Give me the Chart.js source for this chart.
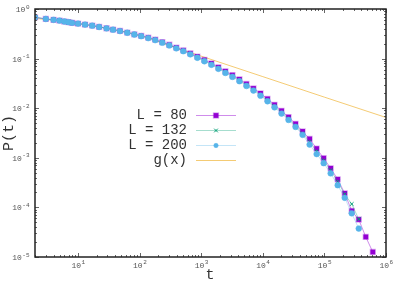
<!DOCTYPE html>
<html><head><meta charset="utf-8">
<script src="https://cdn.jsdelivr.net/npm/chart.js@4/dist/chart.umd.min.js"></script>
<style>html,body{margin:0;padding:0;background:#fff}#wrap{width:405px;height:284px}</style>
</head><body><div id="wrap"><canvas id="c" width="405" height="284"></canvas></div>
<script>
// time values (log-spaced)
const times = [2,3,4,5,6,7,8,10,13,17,22,29,37,48,63,82,106,138,179,233,303,394,512,665,865,1125,1462,1901,2471,3212,4176,5428,7057,9174,11926,15503,20154,26201,34061,44279,57563,74832,97282,126466,164405,213727,277845,361198,469558,610425];
const p80 = [0.68,0.63,0.605,0.585,0.56,0.543,0.527,0.509,0.486,0.464,0.436,0.409,0.385,0.362,0.335,0.309,0.287,0.264,0.242,0.215,0.190,0.167,0.147,0.128,0.110,0.094,0.080,0.0668,0.0555,0.0465,0.0382,0.0308,0.0250,0.0199,0.0154,0.0117,0.00885,0.00660,0.00483,0.00340,0.00240,0.00153,0.00098,0.000614,0.000368,0.000192,0.000085,0.000057,0.0000254,0.0000126];
const p132 = [0.68,0.63,0.605,0.585,0.56,0.543,0.527,0.508,0.485,0.463,0.435,0.408,0.384,0.360,0.333,0.307,0.284,0.261,0.238,0.211,0.186,0.163,0.143,0.124,0.106,0.0905,0.0765,0.0638,0.0528,0.0441,0.0361,0.0290,0.0235,0.0186,0.0143,0.0109,0.0082,0.0061,0.0044,0.0031,0.00210,0.00135,0.00088,0.000560,0.000330,0.000184,0.000117,0.000058];
const p200 = [0.68,0.63,0.605,0.585,0.56,0.543,0.527,0.508,0.485,0.462,0.434,0.407,0.383,0.359,0.332,0.306,0.283,0.259,0.236,0.209,0.184,0.161,0.141,0.122,0.104,0.0885,0.0750,0.0622,0.0514,0.0428,0.0350,0.0281,0.0227,0.0179,0.0138,0.0104,0.0078,0.0058,0.0042,0.0029,0.00185,0.00119,0.00078,0.000486,0.000280,0.000156,0.000076,0.0000375];
const gTimes = [2,5,10,30,100,300,1000,10000,100000,1000000];
const gValues = [0.645,0.575,0.51,0.405,0.295,0.185,0.112,0.0433,0.0167,0.0065];
const seriesNames = ['L = 80','L = 132','L = 200','g(x)'];
const xTickExps = [1,2,3,4,5,6];
const yTickExps = [0,-1,-2,-3,-4,-5];

const pts = (xs, ys) => ys.map((v,i)=>({x:xs[i], y:v}));
const MONO = '"Liberation Mono", "DejaVu Sans Mono", monospace';

const datasets = [
  {label:seriesNames[0], data:pts(times,p80), borderColor:'rgba(148,0,211,0.45)', borderWidth:1,
   pointStyle:'rect', pointRadius:3.4, pointBackgroundColor:'#9400d3', pointBorderColor:'rgba(148,0,211,0.3)', pointBorderWidth:1.5, order:3},
  {label:seriesNames[1], data:pts(times,p132), borderColor:'rgba(0,158,115,0.35)', borderWidth:1,
   pointStyle:'crossRot', pointRadius:2.6, pointBackgroundColor:'#009e73', pointBorderColor:'#009e73', pointBorderWidth:1, order:2},
  {label:seriesNames[2], data:pts(times,p200), borderColor:'rgba(86,180,233,0.35)', borderWidth:1,
   pointStyle:'circle', pointRadius:2.9, pointBackgroundColor:'#56b4e9', pointBorderColor:'rgba(86,180,233,0.5)', pointBorderWidth:1, order:1},
  {label:seriesNames[3], data:pts(gTimes,gValues), borderColor:'rgba(240,185,70,0.75)', borderWidth:1,
   pointRadius:0, cubicInterpolationMode:'monotone', order:4}
];

function line(ctx,x1,y1,x2,y2){ctx.beginPath();ctx.moveTo(x1,y1);ctx.lineTo(x2,y2);ctx.stroke();}

const deco = {
  id:'deco',
  afterDatasetsDraw(chart){
    const ctx = chart.ctx, a = chart.chartArea, xs = chart.scales.x, ys = chart.scales.y;
    ctx.save();
    // inward ticks
    ctx.strokeStyle = '#666'; ctx.lineWidth = 1;
    for (let e=0;e<=6;e++) for (let m=1;m<=9;m++){
      const v = m*Math.pow(10,e); if (v < xs.min || v > xs.max) continue;
      const px = Math.round(xs.getPixelForValue(v))+0.5, len = m===1?4:2;
      line(ctx,px,a.bottom,px,a.bottom-len); line(ctx,px,a.top,px,a.top+len);
    }
    for (let e=-5;e<=0;e++) for (let m=1;m<=9;m++){
      const v = m*Math.pow(10,e); if (v < ys.min*0.999 || v > ys.max*1.001) continue;
      const py = Math.round(ys.getPixelForValue(v))+0.5, len = m===1?4:2;
      line(ctx,a.left,py,a.left+len,py); line(ctx,a.right,py,a.right-len,py);
    }
    // frame
    ctx.strokeStyle = '#222'; ctx.lineWidth = 1.5;
    ctx.strokeRect(a.left, a.top, a.right-a.left, a.bottom-a.top);
    // tick labels
    ctx.fillStyle = '#555'; ctx.textBaseline = 'alphabetic'; ctx.textAlign = 'left';
    const bigF = '8px '+MONO, smallF = '6px '+MONO;
    function pow(exp){
      ctx.font = bigF; const w1 = ctx.measureText('10').width;
      ctx.font = smallF; const w2 = ctx.measureText(String(exp)).width;
      return {w1,w2,t:w1+w2};
    }
    xTickExps.forEach(e=>{
      const px = xs.getPixelForValue(Math.pow(10,e)); const m = pow(e);
      const x0 = px - m.t/2;
      ctx.font = bigF; ctx.fillText('10', x0, 268);
      ctx.font = smallF; ctx.fillText(String(e), x0+m.w1+0.5, 264);
    });
    yTickExps.forEach(e=>{
      const py = ys.getPixelForValue(Math.pow(10,e)); const m = pow(e);
      const x0 = 29 - m.t;
      ctx.font = bigF; ctx.fillText('10', x0, py+3);
      ctx.font = smallF; ctx.fillText(String(e), x0+m.w1+0.5, py-0.5);
    });
    // axis titles
    ctx.fillStyle = '#333'; ctx.font = '15px '+MONO; ctx.textAlign='center'; ctx.textBaseline='middle';
    ctx.fillText('t', 210, 275);
    ctx.save(); ctx.translate(9,133); ctx.rotate(-Math.PI/2); ctx.fillText('P(t)',0,0); ctx.restore();
    // legend
    ctx.font = '14px '+MONO; ctx.textAlign='right'; ctx.textBaseline='middle'; ctx.fillStyle='#333';
    chart.data.datasets.forEach((ds,i)=>{
      const yy = 115 + i*15;
      ctx.fillStyle='#333'; ctx.fillText(ds.label, 187, yy);
      ctx.strokeStyle = ds.borderColor; ctx.lineWidth = 1;
      line(ctx,196,yy+0.5,236,yy+0.5);
      if (ds.pointRadius){
        const r = ds.pointStyle==='circle' ? 2.2 : ds.pointRadius;
        ctx.fillStyle = ds.pointBackgroundColor; ctx.strokeStyle = ds.pointBorderColor; ctx.lineWidth = ds.pointBorderWidth;
        Chart.helpers.drawPoint(ctx,{pointStyle:ds.pointStyle, radius:r, borderWidth:ds.pointBorderWidth, rotation:0},216,yy+0.5);
      }
    });
    ctx.restore();
  }
};

new Chart(document.getElementById('c'), {
  type:'line',
  data:{datasets},
  options:{
    responsive:false, animation:false, devicePixelRatio:1,
    layout:{padding:{left:35,right:19,top:9,bottom:27}},
    plugins:{legend:{display:false}, tooltip:{enabled:false}},
    scales:{
      x:{type:'logarithmic', min:2, max:1000000, display:false},
      y:{type:'logarithmic', min:0.00001, max:1, display:false}
    }
  },
  plugins:[deco]
});
</script></body></html>
